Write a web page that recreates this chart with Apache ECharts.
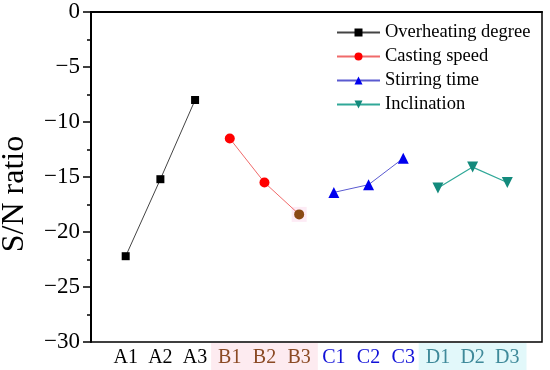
<!DOCTYPE html>
<html><head><meta charset="utf-8">
<script src="https://cdn.jsdelivr.net/npm/echarts@6/dist/echarts.min.js"></script>
<style>html,body{margin:0;padding:0;background:#fff}#c{width:550px;height:370px}</style>
</head><body><div id="c"></div>
<script>
var categories = ['A1','A2','A3','B1','B2','B3','C1','C2','C3','D1','D2','D3'];
var groupOf = ['a','a','a','b','b','b','c','c','c','d','d','d'];
var seriesNames = ['Overheating degree','Casting speed','Stirring time','Inclination'];
var overheating = [-22.2, -15.2, -8.0];
var castingSpeed = [-11.5, -15.5, -18.4];
var stirringTime = [-16.4, -15.7, -13.3];
var inclination = [-16.0, -14.1, -15.5];
var yTicks = [0, -5, -10, -15, -20, -25, -30];

var F = '"Liberation Serif","Times New Roman",serif';
function pts(vals, start){ return vals.map(function(v,i){ return [start+i+1, v]; }); }
var chart = echarts.init(document.getElementById('c'), null, {renderer:'canvas'});
var castData = pts(castingSpeed, 3);
castData[2] = {value: castData[2], itemStyle:{color:'#8a4a14'}};
chart.setOption({
  animation:false,
  grid:{left:91, right:8, top:12, bottom:28, outerBoundsMode:'none', containLabel:false,
        show:true, borderColor:'#000', borderWidth:1.5, backgroundColor:'transparent'},
  legend:{
    orient:'vertical', left:331, top:18, itemWidth:43, itemHeight:10, itemGap:5,
    textStyle:{fontFamily:F, fontSize:18.5, color:'#000', padding:[0,0,0,0]},
    data:seriesNames
  },
  xAxis:{
    type:'value', min:0, max:13, interval:1,
    axisLine:{lineStyle:{color:'#000', width:2}},
    axisTick:{show:false}, splitLine:{show:false},
    axisLabel:{
      margin:1, showMinLabel:false, showMaxLabel:false,
      formatter:function(v){ var i=v-1; if(i<0||i>=categories.length) return ''; return '{'+groupOf[i]+'|'+categories[i]+'}'; },
      rich:{
        a:{fontFamily:F, fontSize:20, color:'#000', padding:[5,7,5,7]},
        b:{fontFamily:F, fontSize:20, color:'#8b4a24', backgroundColor:'#fdebf0', padding:[5,7,5,7]},
        c:{fontFamily:F, fontSize:20, color:'#1010d8', padding:[5,7,5,7]},
        d:{fontFamily:F, fontSize:20, color:'#3f8a9a', backgroundColor:'#e2f8fa', padding:[5,7,5,7]}
      }
    }
  },
  yAxis:{
    type:'value', min:-30, max:0, interval:5,
    name:'S/N ratio', nameLocation:'middle', nameGap:60,
    nameTextStyle:{fontFamily:F, fontSize:32, color:'#000', padding:[0,34,0,0]},
    axisLine:{show:true, lineStyle:{color:'#000', width:2}},
    axisTick:{show:true, length:8, lineStyle:{color:'#000', width:1.5}},
    minorTick:{show:true, splitNumber:2, length:4, lineStyle:{color:'#000', width:1.5}},
    splitLine:{show:false},
    axisLabel:{fontFamily:F, fontSize:23, color:'#000', margin:11,
      formatter:function(v){ return v<0 ? '\u2212'+Math.abs(v) : String(v); }}
  },
  series:[
    {name:'B3 mark', type:'scatter', data:[[6, castingSpeed[2]]], symbol:'rect', symbolSize:15,
     itemStyle:{color:'#fde6f2'}, z:1, silent:true, legendHoverLink:false},
    {name:seriesNames[0], type:'line', data:pts(overheating,0), symbol:'rect', symbolSize:8,
     itemStyle:{color:'#000'}, lineStyle:{color:'#444', width:1}, z:3},
    {name:seriesNames[1], type:'line', data:castData, symbol:'circle', symbolSize:10,
     itemStyle:{color:'#ff0000'}, lineStyle:{color:'#f06a6a', width:1}, z:3},
    {name:seriesNames[2], type:'line', data:pts(stirringTime,6), symbol:'triangle', symbolSize:11,
     itemStyle:{color:'#0000ee'}, lineStyle:{color:'#5a5ad0', width:1}, z:3},
    {name:seriesNames[3], type:'line', data:pts(inclination,9), symbol:'triangle', symbolRotate:180, symbolSize:11,
     itemStyle:{color:'#138a7c'}, lineStyle:{color:'#30a898', width:1.2}, z:3}
  ]
});
</script></body></html>
